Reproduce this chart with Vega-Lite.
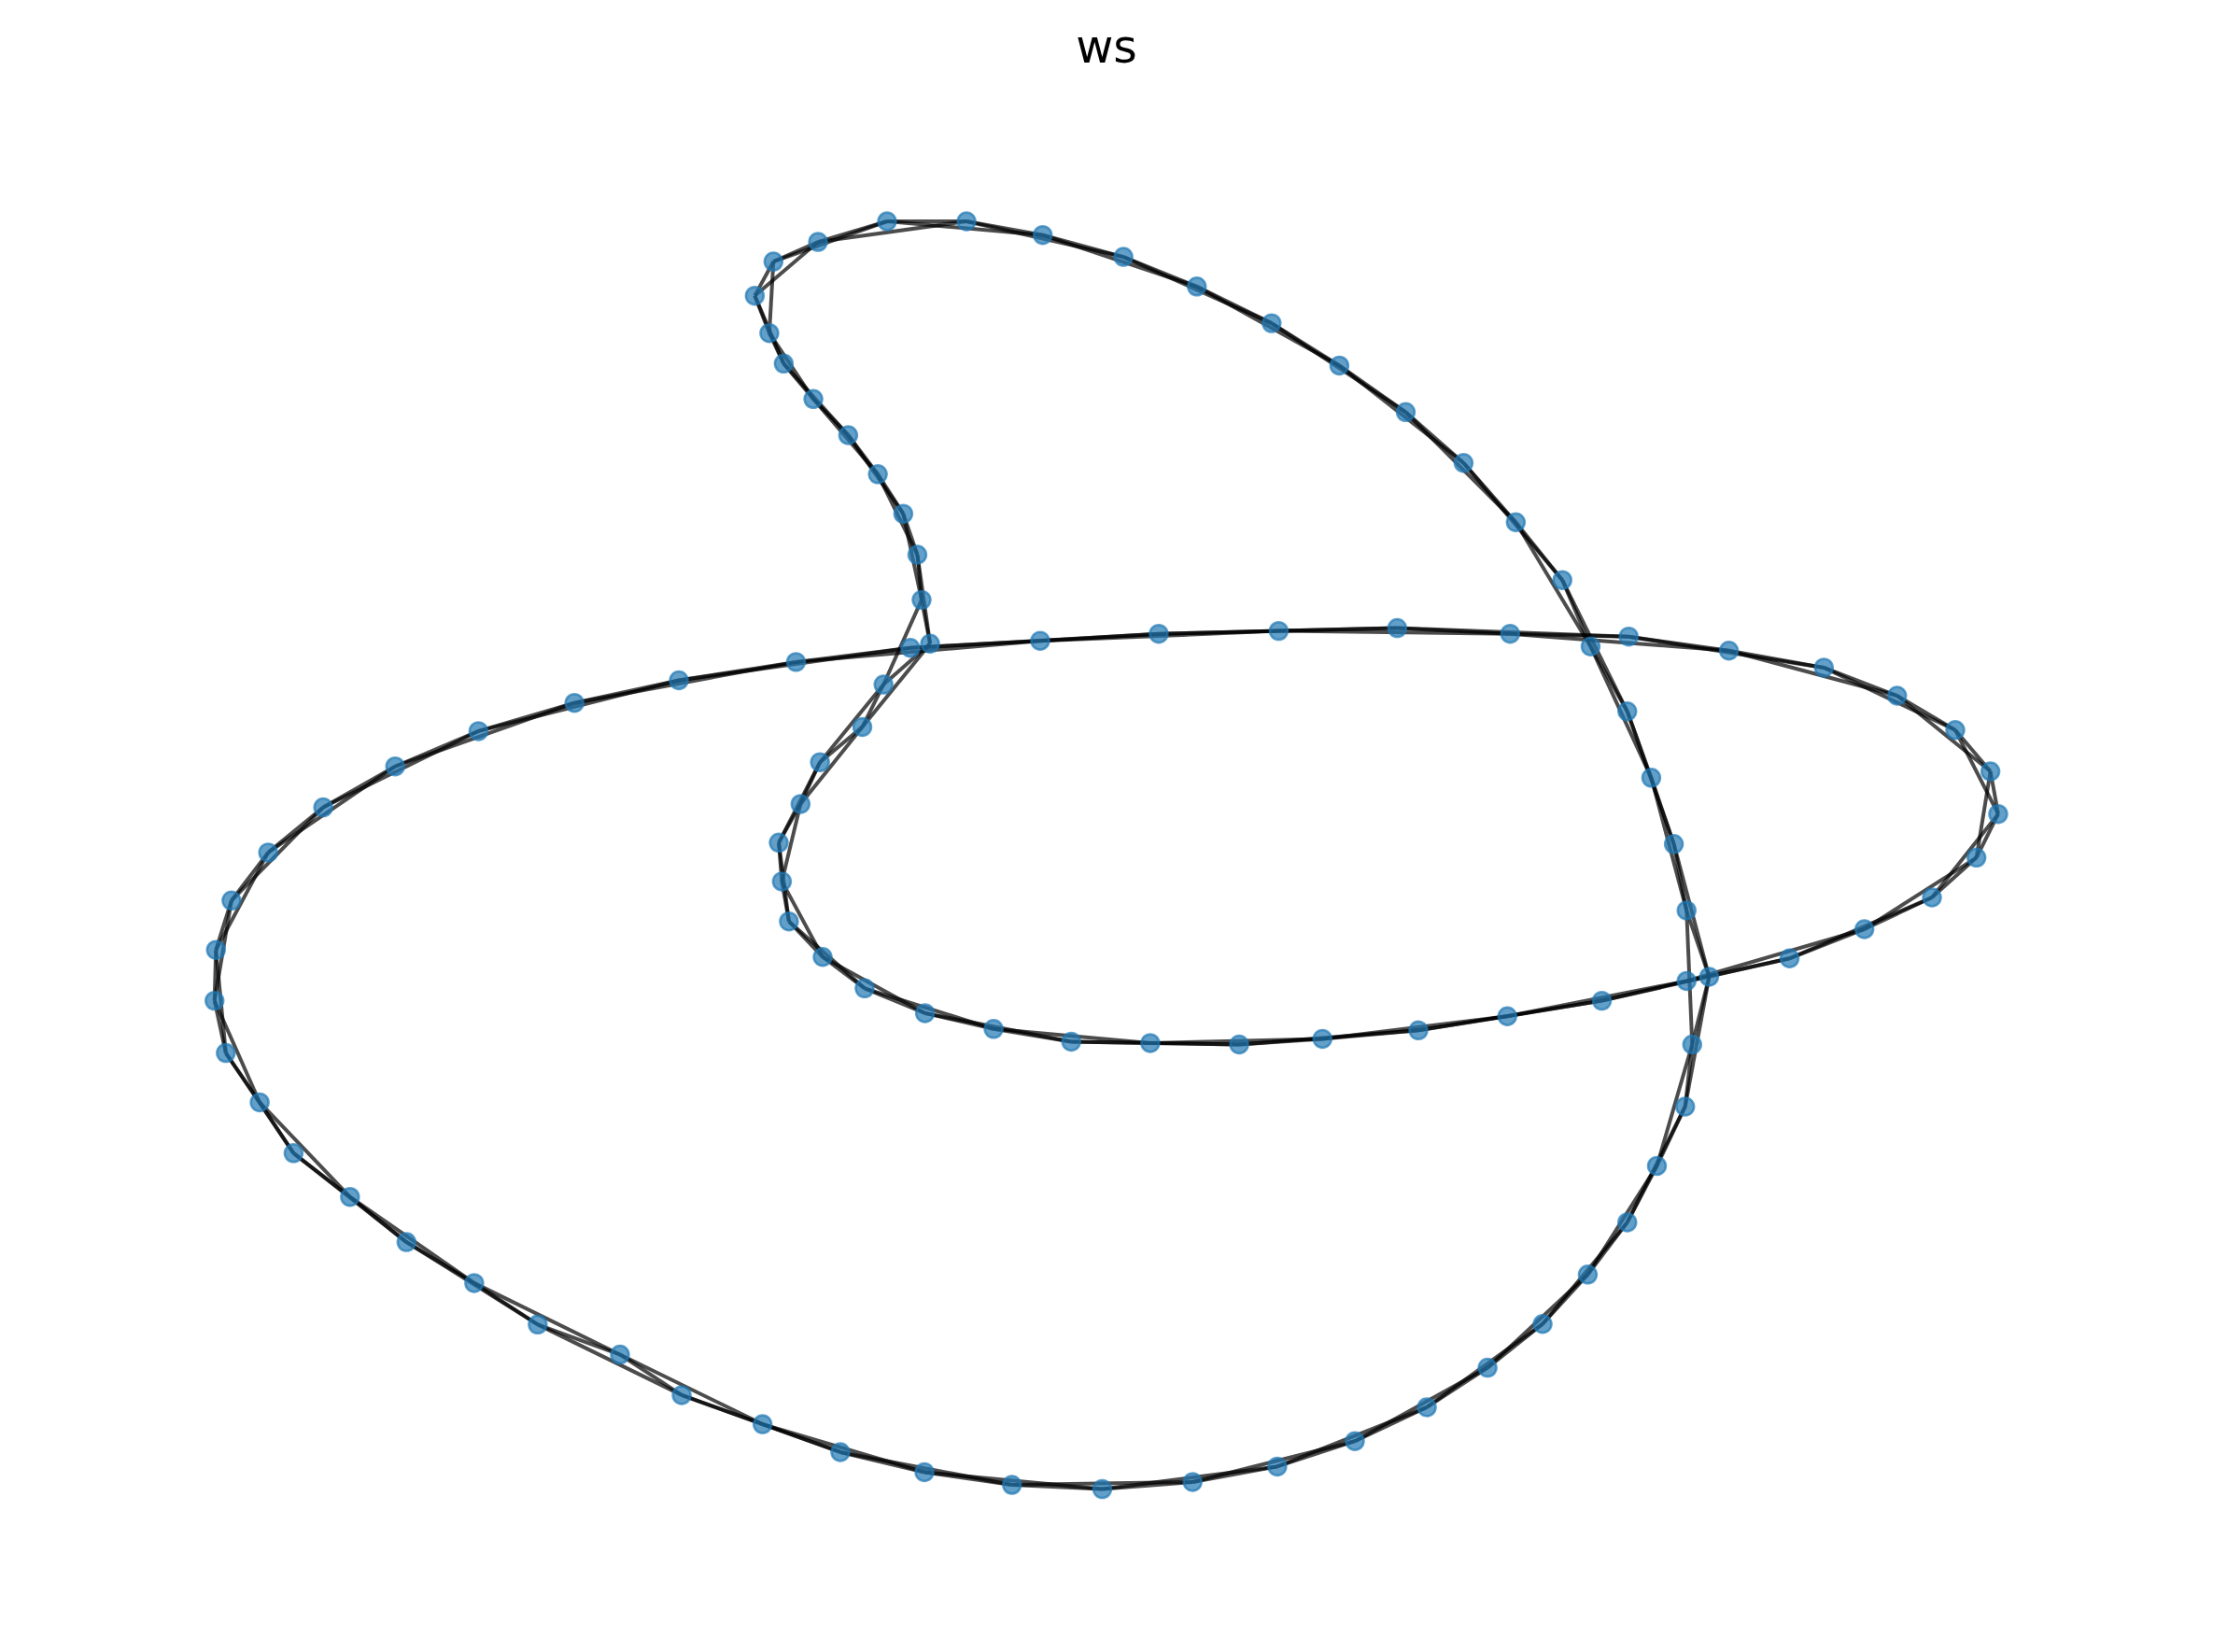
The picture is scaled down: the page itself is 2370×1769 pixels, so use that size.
{
  "$schema": "https://vega.github.io/schema/vega-lite/v6.json",
  "width": 2370,
  "height": 1769,
  "autosize": "none",
  "padding": 0,
  "title": {"text": "ws", "font": "DejaVu Sans", "fontSize": 49, "fontWeight": "normal", "color": "black", "anchor": "middle", "baseline": "alphabetic", "offset": -116},
  "config": {"view": {"stroke": null}},
  "datasets": {
    "nodes": [
      {"id": 1, "x": 534.8, "y": 209.5}, {"id": 2, "x": 548, "y": 185.3}, {"id": 3, "x": 579.6, "y": 171.4},
      {"id": 4, "x": 628.5, "y": 156.8}, {"id": 5, "x": 684.8, "y": 156.8}, {"id": 6, "x": 738.8, "y": 166.5},
      {"id": 7, "x": 796, "y": 182}, {"id": 8, "x": 848, "y": 203}, {"id": 9, "x": 901, "y": 229},
      {"id": 10, "x": 949, "y": 259}, {"id": 11, "x": 996, "y": 292}, {"id": 12, "x": 1037, "y": 328},
      {"id": 13, "x": 1074, "y": 370}, {"id": 14, "x": 1107, "y": 411}, {"id": 15, "x": 1127, "y": 458},
      {"id": 16, "x": 1153, "y": 504}, {"id": 17, "x": 1170, "y": 551}, {"id": 18, "x": 1186, "y": 598},
      {"id": 19, "x": 1195, "y": 645}, {"id": 20, "x": 1211, "y": 692}, {"id": 21, "x": 1199, "y": 740},
      {"id": 22, "x": 1194, "y": 784}, {"id": 23, "x": 1174, "y": 826}, {"id": 24, "x": 1153, "y": 866},
      {"id": 25, "x": 1125, "y": 903}, {"id": 26, "x": 1093, "y": 938}, {"id": 27, "x": 1054, "y": 969},
      {"id": 28, "x": 1011, "y": 997}, {"id": 29, "x": 960, "y": 1021}, {"id": 30, "x": 905, "y": 1039},
      {"id": 31, "x": 845, "y": 1050}, {"id": 32, "x": 781, "y": 1055}, {"id": 33, "x": 717, "y": 1052},
      {"id": 34, "x": 655, "y": 1043}, {"id": 35, "x": 595.4, "y": 1028.8}, {"id": 36, "x": 540.3, "y": 1009},
      {"id": 37, "x": 483, "y": 988.4}, {"id": 38, "x": 439.3, "y": 959.7}, {"id": 39, "x": 381, "y": 938.4},
      {"id": 40, "x": 336, "y": 909}, {"id": 41, "x": 288, "y": 880}, {"id": 42, "x": 248, "y": 848},
      {"id": 43, "x": 208, "y": 817}, {"id": 44, "x": 184, "y": 781}, {"id": 45, "x": 160, "y": 746},
      {"id": 46, "x": 152, "y": 709}, {"id": 47, "x": 153, "y": 673}, {"id": 48, "x": 164, "y": 638},
      {"id": 49, "x": 190, "y": 604}, {"id": 50, "x": 229, "y": 572}, {"id": 51, "x": 280, "y": 543},
      {"id": 52, "x": 339, "y": 518}, {"id": 53, "x": 407, "y": 498}, {"id": 54, "x": 481, "y": 482},
      {"id": 55, "x": 564, "y": 469}, {"id": 56, "x": 645, "y": 459}, {"id": 57, "x": 737, "y": 454},
      {"id": 58, "x": 821, "y": 449}, {"id": 59, "x": 906, "y": 447}, {"id": 60, "x": 990, "y": 445},
      {"id": 61, "x": 1070, "y": 449}, {"id": 62, "x": 1154, "y": 451}, {"id": 63, "x": 1225, "y": 461},
      {"id": 64, "x": 1292.3, "y": 473}, {"id": 65, "x": 1344.2, "y": 492.9}, {"id": 66, "x": 1385.4, "y": 517.2},
      {"id": 67, "x": 1410.3, "y": 546.5}, {"id": 68, "x": 1415.8, "y": 576.7}, {"id": 69, "x": 1400.4, "y": 607.6},
      {"id": 70, "x": 1368.9, "y": 635.8}, {"id": 71, "x": 1321, "y": 658.3}, {"id": 72, "x": 1268, "y": 679},
      {"id": 73, "x": 1195, "y": 695}, {"id": 74, "x": 1135, "y": 709}, {"id": 75, "x": 1068, "y": 720},
      {"id": 76, "x": 1005, "y": 730}, {"id": 77, "x": 937, "y": 736}, {"id": 78, "x": 878, "y": 740},
      {"id": 79, "x": 815, "y": 739}, {"id": 80, "x": 759, "y": 738}, {"id": 81, "x": 704, "y": 729},
      {"id": 82, "x": 655.4, "y": 717.8}, {"id": 83, "x": 612.6, "y": 700.2}, {"id": 84, "x": 582.9, "y": 678},
      {"id": 85, "x": 559, "y": 652.8}, {"id": 86, "x": 554, "y": 624.5}, {"id": 87, "x": 551.8, "y": 597},
      {"id": 88, "x": 567.2, "y": 569.6}, {"id": 89, "x": 581, "y": 540}, {"id": 90, "x": 611, "y": 515},
      {"id": 91, "x": 626, "y": 485}, {"id": 92, "x": 659, "y": 456}, {"id": 93, "x": 653, "y": 425},
      {"id": 94, "x": 650, "y": 393}, {"id": 95, "x": 640, "y": 364}, {"id": 96, "x": 622, "y": 336},
      {"id": 97, "x": 601, "y": 308.3}, {"id": 98, "x": 576.3, "y": 282.7}, {"id": 99, "x": 555.3, "y": 257.6},
      {"id": 100, "x": 545.1, "y": 236}
    ],
    "edges": [
      {"s": 1, "t": 2}, {"s": 1, "t": 3}, {"s": 2, "t": 3}, {"s": 2, "t": 4}, {"s": 3, "t": 4}, {"s": 3, "t": 5},
      {"s": 4, "t": 5}, {"s": 4, "t": 6}, {"s": 5, "t": 6}, {"s": 5, "t": 7}, {"s": 6, "t": 7}, {"s": 6, "t": 8},
      {"s": 7, "t": 8}, {"s": 7, "t": 9}, {"s": 8, "t": 9}, {"s": 8, "t": 10}, {"s": 9, "t": 10}, {"s": 9, "t": 11},
      {"s": 10, "t": 11}, {"s": 10, "t": 12}, {"s": 11, "t": 12}, {"s": 11, "t": 13}, {"s": 12, "t": 13}, {"s": 12, "t": 14},
      {"s": 13, "t": 14}, {"s": 13, "t": 15}, {"s": 14, "t": 15}, {"s": 14, "t": 16}, {"s": 15, "t": 16}, {"s": 15, "t": 17},
      {"s": 16, "t": 17}, {"s": 16, "t": 18}, {"s": 17, "t": 18}, {"s": 17, "t": 19}, {"s": 18, "t": 19}, {"s": 18, "t": 20},
      {"s": 19, "t": 20}, {"s": 19, "t": 21}, {"s": 20, "t": 21}, {"s": 20, "t": 22}, {"s": 21, "t": 22}, {"s": 21, "t": 23},
      {"s": 22, "t": 23}, {"s": 22, "t": 24}, {"s": 23, "t": 24}, {"s": 23, "t": 25}, {"s": 24, "t": 25}, {"s": 24, "t": 26},
      {"s": 25, "t": 26}, {"s": 25, "t": 27}, {"s": 26, "t": 27}, {"s": 26, "t": 28}, {"s": 27, "t": 28}, {"s": 27, "t": 29},
      {"s": 28, "t": 29}, {"s": 28, "t": 30}, {"s": 29, "t": 30}, {"s": 29, "t": 31}, {"s": 30, "t": 31}, {"s": 30, "t": 32},
      {"s": 31, "t": 32}, {"s": 31, "t": 33}, {"s": 32, "t": 33}, {"s": 32, "t": 34}, {"s": 33, "t": 34}, {"s": 33, "t": 35},
      {"s": 34, "t": 35}, {"s": 34, "t": 36}, {"s": 35, "t": 36}, {"s": 35, "t": 37}, {"s": 36, "t": 37}, {"s": 36, "t": 38},
      {"s": 37, "t": 38}, {"s": 37, "t": 39}, {"s": 38, "t": 39}, {"s": 38, "t": 40}, {"s": 39, "t": 40}, {"s": 39, "t": 41},
      {"s": 40, "t": 41}, {"s": 40, "t": 42}, {"s": 41, "t": 42}, {"s": 41, "t": 43}, {"s": 42, "t": 43}, {"s": 42, "t": 44},
      {"s": 43, "t": 44}, {"s": 43, "t": 45}, {"s": 44, "t": 45}, {"s": 44, "t": 46}, {"s": 45, "t": 46}, {"s": 45, "t": 47},
      {"s": 46, "t": 47}, {"s": 46, "t": 48}, {"s": 47, "t": 48}, {"s": 47, "t": 49}, {"s": 48, "t": 49}, {"s": 48, "t": 50},
      {"s": 49, "t": 50}, {"s": 49, "t": 51}, {"s": 50, "t": 51}, {"s": 50, "t": 52}, {"s": 51, "t": 52}, {"s": 51, "t": 53},
      {"s": 52, "t": 53}, {"s": 52, "t": 54}, {"s": 53, "t": 54}, {"s": 53, "t": 55}, {"s": 54, "t": 55}, {"s": 54, "t": 56},
      {"s": 55, "t": 56}, {"s": 55, "t": 57}, {"s": 56, "t": 57}, {"s": 56, "t": 58}, {"s": 57, "t": 58}, {"s": 57, "t": 59},
      {"s": 58, "t": 59}, {"s": 58, "t": 60}, {"s": 59, "t": 60}, {"s": 59, "t": 61}, {"s": 60, "t": 61}, {"s": 60, "t": 62},
      {"s": 61, "t": 62}, {"s": 61, "t": 63}, {"s": 62, "t": 63}, {"s": 62, "t": 64}, {"s": 63, "t": 64}, {"s": 63, "t": 65},
      {"s": 64, "t": 65}, {"s": 64, "t": 66}, {"s": 65, "t": 66}, {"s": 65, "t": 67}, {"s": 66, "t": 67}, {"s": 66, "t": 68},
      {"s": 67, "t": 68}, {"s": 67, "t": 69}, {"s": 68, "t": 69}, {"s": 68, "t": 70}, {"s": 69, "t": 70}, {"s": 69, "t": 71},
      {"s": 70, "t": 71}, {"s": 70, "t": 72}, {"s": 71, "t": 72}, {"s": 71, "t": 73}, {"s": 72, "t": 73}, {"s": 72, "t": 74},
      {"s": 73, "t": 74}, {"s": 73, "t": 75}, {"s": 74, "t": 75}, {"s": 74, "t": 76}, {"s": 75, "t": 76}, {"s": 75, "t": 77},
      {"s": 76, "t": 77}, {"s": 76, "t": 78}, {"s": 77, "t": 78}, {"s": 77, "t": 79}, {"s": 78, "t": 79}, {"s": 78, "t": 80},
      {"s": 79, "t": 80}, {"s": 79, "t": 81}, {"s": 80, "t": 81}, {"s": 80, "t": 82}, {"s": 81, "t": 82}, {"s": 81, "t": 83},
      {"s": 82, "t": 83}, {"s": 82, "t": 84}, {"s": 83, "t": 84}, {"s": 83, "t": 85}, {"s": 84, "t": 85}, {"s": 84, "t": 86},
      {"s": 85, "t": 86}, {"s": 85, "t": 87}, {"s": 86, "t": 87}, {"s": 86, "t": 88}, {"s": 87, "t": 88}, {"s": 87, "t": 89},
      {"s": 88, "t": 89}, {"s": 88, "t": 90}, {"s": 89, "t": 90}, {"s": 89, "t": 91}, {"s": 90, "t": 91}, {"s": 90, "t": 92},
      {"s": 91, "t": 92}, {"s": 91, "t": 93}, {"s": 92, "t": 93}, {"s": 92, "t": 94}, {"s": 93, "t": 94}, {"s": 93, "t": 95},
      {"s": 94, "t": 95}, {"s": 94, "t": 96}, {"s": 95, "t": 96}, {"s": 95, "t": 97}, {"s": 96, "t": 97}, {"s": 96, "t": 98},
      {"s": 97, "t": 98}, {"s": 97, "t": 99}, {"s": 98, "t": 99}, {"s": 98, "t": 100}, {"s": 99, "t": 100}, {"s": 99, "t": 1},
      {"s": 100, "t": 1}, {"s": 100, "t": 2}
    ]
  },
  "layer": [
    {
      "data": {"name": "edges"},
      "transform": [
        {"lookup": "s", "from": {"data": {"name": "nodes"}, "key": "id", "fields": ["x", "y"]}, "as": ["x1", "y1"]},
        {"lookup": "t", "from": {"data": {"name": "nodes"}, "key": "id", "fields": ["x", "y"]}, "as": ["x2", "y2"]}
      ],
      "mark": {"type": "rule", "color": "black", "strokeOpacity": 0.7, "strokeWidth": 4},
      "encoding": {
        "x": {"field": "x1", "type": "quantitative", "scale": {"domain": [0, 1568], "nice": false, "zero": false}, "axis": null},
        "y": {"field": "y1", "type": "quantitative", "scale": {"domain": [0, 1170.4], "nice": false, "zero": false, "reverse": true}, "axis": null},
        "x2": {"field": "x2"},
        "y2": {"field": "y2"}
      }
    },
    {
      "data": {"name": "nodes"},
      "mark": {"type": "point", "shape": "circle", "filled": true, "fill": "#1f77b4", "stroke": "#1f77b4", "fillOpacity": 0.7, "strokeOpacity": 0.7, "strokeWidth": 2.5, "size": 360},
      "encoding": {
        "x": {"field": "x", "type": "quantitative", "axis": null},
        "y": {"field": "y", "type": "quantitative", "axis": null}
      }
    }
  ]
}
